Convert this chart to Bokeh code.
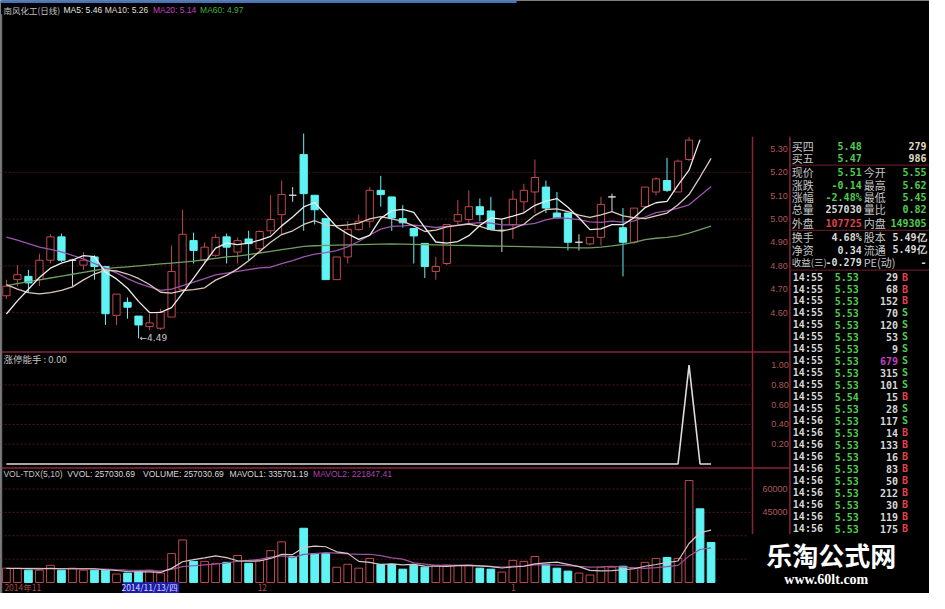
from bokeh.plotting import figure
from bokeh.models import Range1d, ColumnDataSource
from bokeh.core.properties import value
from bokeh.embed import file_html
from bokeh.resources import INLINE

# ---------------- data ----------------
opens = [4.672, 4.741, 4.755, 4.741, 4.824, 4.924, 4.824, 4.803, 4.838, 4.797,
         4.588, 4.644, 4.585, 4.540, 4.533, 4.581, 4.699, 4.908, 4.824, 4.845,
         4.924, 4.859, 4.915, 4.873, 4.950, 5.019, 5.102, 5.276, 5.102, 5.002,
         4.741, 4.838, 4.956, 4.991, 5.123, 5.095, 5.002, 4.960, 4.896, 4.776,
         4.810, 4.991, 4.998, 5.053, 5.035, 4.952, 4.977, 5.074, 5.116, 5.137,
         5.026, 5.026, 4.901, 4.894, 4.922, 5.095, 4.963, 4.901, 5.053, 5.116,
         5.165, 5.116, 5.255]
highs = [4.741, 4.803, 4.783, 4.852, 4.935, 4.938, 4.830, 4.859, 4.845, 4.797,
         4.679, 4.665, 4.585, 4.595, 4.616, 4.887, 5.040, 4.942, 4.900, 4.935,
         4.938, 4.921, 4.950, 4.952, 5.102, 5.165, 5.137, 5.366, 5.102, 5.002,
         4.838, 4.991, 5.019, 5.137, 5.185, 5.095, 5.060, 4.960, 4.896, 4.838,
         4.977, 5.081, 5.123, 5.088, 5.095, 4.998, 5.123, 5.151, 5.255, 5.165,
         5.116, 5.026, 4.935, 4.922, 5.095, 5.109, 5.047, 5.047, 5.137, 5.179,
         5.262, 5.255, 5.352]
lows = [4.658, 4.713, 4.685, 4.713, 4.810, 4.817, 4.713, 4.783, 4.741, 4.547,
        4.547, 4.574, 4.490, 4.526, 4.526, 4.581, 4.699, 4.810, 4.810, 4.838,
        4.810, 4.810, 4.824, 4.866, 4.935, 4.935, 5.074, 4.950, 4.977, 4.741,
        4.741, 4.810, 4.950, 4.963, 5.053, 4.950, 4.963, 4.810, 4.748, 4.741,
        4.803, 4.977, 4.977, 4.991, 4.956, 4.859, 4.915, 5.026, 5.026, 5.026,
        5.005, 4.866, 4.866, 4.887, 4.887, 5.033, 4.755, 4.894, 5.047, 5.102,
        5.116, 5.116, 5.248]
closes = [4.713, 4.762, 4.727, 4.824, 4.924, 4.824, 4.824, 4.824, 4.797, 4.595,
          4.679, 4.623, 4.547, 4.556, 4.602, 4.776, 4.935, 4.866, 4.880, 4.922,
          4.880, 4.908, 4.895, 4.947, 4.998, 5.105, 5.102, 5.109, 5.040, 4.741,
          4.838, 4.956, 4.991, 5.123, 5.105, 5.005, 4.984, 4.928, 4.797, 4.797,
          4.977, 5.019, 5.053, 5.019, 4.956, 4.952, 5.085, 5.123, 5.178, 5.047,
          5.005, 4.901, 4.901, 4.922, 5.063, 5.095, 4.901, 5.047, 5.137, 5.172,
          5.123, 5.248, 5.338]

ma5 = [4.594, 4.65, 4.70, 4.75, 4.790, 4.812, 4.825, 4.844, 4.839, 4.773,
       4.744, 4.704, 4.648, 4.600, 4.601, 4.621, 4.683, 4.747, 4.812, 4.876,
       4.897, 4.891, 4.897, 4.910, 4.926, 4.971, 5.009, 5.052, 5.071, 5.019,
       4.966, 4.937, 4.913, 4.930, 5.003, 5.036, 5.042, 5.029, 4.964, 4.902,
       4.897, 4.904, 4.929, 4.973, 5.005, 5.000, 5.013, 5.027, 5.059, 5.077,
       5.088, 5.051, 5.006, 4.955, 4.958, 4.976, 4.976, 5.006, 5.049, 5.070,
       5.076, 5.145, 5.210, 5.340]
ma10 = [4.72, 4.70, 4.685, 4.68, 4.685, 4.695, 4.71, 4.74, 4.765, 4.782,
        4.778, 4.765, 4.746, 4.720, 4.687, 4.683, 4.694, 4.698, 4.706, 4.739,
        4.759, 4.787, 4.822, 4.861, 4.901, 4.934, 4.950, 4.977, 4.993, 4.975,
        4.971, 4.975, 4.983, 5.001, 5.011, 5.001, 4.990, 4.971, 4.947, 4.953,
        4.967, 4.973, 4.979, 4.969, 4.954, 4.949, 4.959, 4.978, 5.016, 5.041,
        5.044, 5.032, 5.017, 5.007, 5.018, 5.032, 5.014, 5.006, 5.002, 5.014,
        5.026, 5.061, 5.105, 5.180, 5.260]
ma20 = [4.923, 4.91, 4.895, 4.88, 4.87, 4.86, 4.845, 4.83, 4.81, 4.79,
        4.77, 4.745, 4.725, 4.71, 4.695, 4.70, 4.715, 4.73, 4.745, 4.761,
        4.769, 4.776, 4.784, 4.791, 4.794, 4.809, 4.822, 4.838, 4.850, 4.857,
        4.865, 4.881, 4.904, 4.932, 4.957, 4.969, 4.971, 4.974, 4.970, 4.964,
        4.969, 4.974, 4.981, 4.985, 4.983, 4.975, 4.975, 4.975, 4.982, 4.997,
        5.006, 5.003, 4.998, 4.988, 4.986, 4.991, 4.987, 4.992, 5.009, 5.028,
        5.035, 5.047, 5.061, 5.100, 5.140]
ma60 = [4.715, 4.724, 4.732, 4.740, 4.748, 4.756, 4.764, 4.772, 4.780, 4.788,
        4.792, 4.796, 4.800, 4.804, 4.808, 4.812, 4.816, 4.820, 4.826, 4.832,
        4.838, 4.842, 4.848, 4.855, 4.862, 4.869, 4.876, 4.883, 4.886, 4.888,
        4.889, 4.890, 4.891, 4.892, 4.893, 4.894, 4.893, 4.892, 4.891, 4.890,
        4.889, 4.888, 4.887, 4.886, 4.885, 4.884, 4.883, 4.882, 4.881, 4.880,
        4.879, 4.878, 4.877, 4.877, 4.880, 4.885, 4.892, 4.900, 4.912, 4.918,
        4.922, 4.928, 4.940, 4.955, 4.970]

volume = [9200, 9200, 7940, 7940, 11060, 7940, 9190, 7940, 7940, 7940,
          5440, 6060, 6690, 7940, 6060, 18560, 27310, 13560, 13560, 12310,
          12940, 17310, 12310, 14190, 20440, 26060, 16690, 34810, 18560, 18560,
          9810, 11690, 9190, 15440, 11690, 11690, 8560, 11060, 9810, 11060,
          11060, 11060, 11060, 9190, 8560, 6690, 14190, 13560, 16690, 11690,
          9190, 7310, 6060, 4810, 9810, 9810, 10440, 9190, 12940, 15440,
          16060, 15440, 65440, 47310, 25703]
vol_up = [1, 1, 0, 1, 1, 0, 1, 1, 0, 0,
          1, 0, 0, 1, 1, 1, 1, 0, 1, 1,
          0, 1, 0, 1, 1, 1, 0, 0, 0, 0,
          1, 1, 1, 1, 0, 0, 0, 0, 0, 1,
          1, 1, 1, 0, 0, 1, 1, 1, 1, 0,
          0, 0, 1, 1, 1, 1, 0, 1, 1, 1,
          0, 1, 1, 0, 0]
mavol1 = [9000, 9000, 8900, 8800, 9068, 8816, 8814, 8814, 8814, 8190,
          7690, 7064, 6814, 6814, 6438, 9062, 13312, 14686, 15810, 17060,
          15936, 13936, 13686, 13812, 15438, 18062, 17938, 22438, 23312, 22936,
          19686, 18686, 13562, 12938, 11564, 11940, 11314, 11688, 10562, 10436,
          10310, 10810, 10810, 10686, 10186, 9312, 9938, 10438, 11938, 12564,
          13064, 11688, 10188, 7812, 7436, 7560, 8186, 8812, 10438, 11564,
          12814, 13814, 25064, 31938, 33570]
mavol2 = [9200, 9150, 9100, 9050, 9000, 8950, 8900, 8800, 8700, 8629,
          8253, 7939, 7814, 7814, 7314, 8376, 10188, 10750, 11312, 11749,
          12499, 13624, 14186, 14811, 16249, 16999, 15937, 18062, 18562, 19187,
          18874, 18312, 18000, 18125, 17250, 15813, 15000, 12625, 11750, 11000,
          11125, 11062, 11249, 10624, 10311, 9811, 10374, 10624, 11312, 11375,
          11188, 10813, 10313, 9875, 10000, 10312, 9937, 9500, 9125, 9500,
          10187, 11000, 16938, 21188, 22185]
zt_signal = [0, 0, 0, 0, 0, 0, 0, 0, 0, 0,
             0, 0, 0, 0, 0, 0, 0, 0, 0, 0,
             0, 0, 0, 0, 0, 0, 0, 0, 0, 0,
             0, 0, 0, 0, 0, 0, 0, 0, 0, 0,
             0, 0, 0, 0, 0, 0, 0, 0, 0, 0,
             0, 0, 0, 0, 0, 0, 0, 0, 0, 0,
             0, 0, 1, 0, 0]

price_ticks = [4.60, 4.70, 4.80, 4.90, 5.00, 5.10, 5.20, 5.30]
price_grid = [4.60, 4.80, 5.00, 5.20]
ind_ticks = [0.20, 0.40, 0.60, 0.80, 1.00]
ind_grid = [0.20, 0.40, 0.60, 0.80]
vol_ticks = [45000, 60000]
vol_grid = [15000, 30000, 45000, 60000]
date_labels = ["2014年11", "12", "1"]
date_index = [0, 23, 46]
cursor_index = 13
cursor_label = "2014/11/13/四"

title_texts = ["MA5: 5.46", "MA10: 5.26", "MA20: 5.14", "MA60: 4.97"]
vol_title_texts = ["VOL-TDX(5,10)", "VVOL: 257030.69", "VOLUME: 257030.69",
                   "MAVOL1: 335701.19", "MAVOL2: 221847.41"]

q_label1 = ["买四", "买五", "现价", "涨跌", "涨幅", "总量", "外盘", "换手", "净资"]
q_label1_last = "收益(三)"
q_value1 = ["5.48", "5.47", "5.51", "-0.14", "-2.48%", "257030", "107725", "4.68%", "0.34", "-0.279"]
q_label2 = ["", "", "今开", "最高", "最低", "量比", "内盘", "股本", "流通", "PE(动)"]
q_value2 = ["279", "986", "5.55", "5.62", "5.45", "0.82", "149305", "5.49亿", "5.49亿", "-"]
tick_times = ["14:55"] * 12 + ["14:56"] * 10
tick_prices = ["5.53", "5.53", "5.53", "5.53", "5.53", "5.53", "5.53", "5.53", "5.53", "5.53", "5.54",
               "5.53", "5.53", "5.53", "5.53", "5.53", "5.53", "5.53", "5.53", "5.53", "5.53", "5.53"]
tick_vols = [29, 68, 152, 70, 120, 53, 9, 679, 315, 101, 15, 28, 117, 14, 133, 16, 83, 50, 212, 30, 119, 175]
tick_bs = ["B", "B", "B", "S", "S", "S", "S", "S", "S", "S", "B", "S",
           "S", "B", "B", "B", "B", "B", "B", "B", "B", "B"]

# ---------------- layout (reference pixel frame) ----------------
REF_W, REF_H = 945.0, 609.0
W, H = 929, 593
X0, DX = 6.0, 11.2
P_REF, P_Y, P_SC = 5.30, 152.5, 240.0
I_Y, I_SC = 476.0, 101.5
V_Y, V_SC = 597.7, 625.0

RED = "#c0484c"
CYAN = "#5ff3f3"
DOJI = "#d8d8d8"
AXIS_COL = "#b05858"
GRID_COL = "#4a1a1e"
SEP_COL = "#8a2434"
GREEN_T = "#52cc52"
RED_T = "#e0424a"
WHITE_T = "#d8d8d8"
LABEL_T = "#c4c4c4"
MAG_T = "#c040c0"
CJK = "Noto Sans CJK SC"
MONO = "DejaVu Sans Mono"

p = figure(width=W, height=H, title=None, toolbar_location=None, output_backend="svg",
           x_range=Range1d((0 - X0) / DX, (REF_W - X0) / DX),
           y_range=Range1d(P_REF - (REF_H - P_Y) / P_SC, P_REF + P_Y / P_SC),
           x_axis_location=None, y_axis_location=None, min_border=0,
           background_fill_color="black", border_fill_color="black",
           outline_line_color=None)
p.grid.visible = False
p.extra_x_ranges = {"px": Range1d(0, REF_W)}
p.extra_y_ranges = {"py": Range1d(REF_H, 0),
                    "ind": Range1d(-(REF_H - I_Y) / I_SC, I_Y / I_SC),
                    "vol": Range1d(-(REF_H - V_Y) * V_SC, V_Y * V_SC)}


def hgrid(vals, yname):
    n = len(vals)
    p.segment(x0=[0] * n, y0=vals, x1=[765] * n, y1=vals, x_range_name="px",
              y_range_name=yname, line_color=GRID_COL, line_width=1, line_dash="2 2")


def txt(x, y, t, color, size, font="Liberation Sans", align="left", baseline="middle",
        style="normal", xr="px", yr="py", x_offset=0):
    cols = color if isinstance(color, list) else [color] * len(t)
    src = ColumnDataSource(dict(x=x, y=y, t=t, c=cols))
    p.text(x="x", y="y", text="t", text_color="c", source=src, x_range_name=xr,
           y_range_name=yr, text_font=value(font), text_font_size=f"{size}px",
           text_align=align, text_baseline=baseline, text_font_style=style,
           x_offset=x_offset)


# grids
hgrid(price_grid, "default")
hgrid(ind_grid, "ind")
hgrid(vol_grid, "vol")

# panel borders / separators
p.segment(x0=[0, 0, 765, 803], y0=[361, 480, 140, 140], x1=[803, 803, 765, 803], y1=[361, 480, 548, 548],
          x_range_name="px", y_range_name="py", line_color=SEP_COL, line_width=1.5)
p.segment(x0=[803, 803, 803], y0=[169, 236, 277], x1=[945, 945, 945], y1=[169, 236, 277],
          x_range_name="px", y_range_name="py", line_color="#5a1a22", line_width=1.2)
p.segment(x0=[1], y0=[14], x1=[1], y1=[609], x_range_name="px", y_range_name="py",
          line_color="#6e6e6e", line_width=1.5)
p.quad(left=[0], right=[525], top=[0], bottom=[2.5], x_range_name="px", y_range_name="py",
       fill_color="#3f74c8", line_color=None)

# candles
idx = list(range(len(closes)))
ccol, cfill = [], []
for o, c in zip(opens, closes):
    if c > o:
        ccol.append(RED); cfill.append("black")
    elif c < o:
        ccol.append(CYAN); cfill.append(CYAN)
    else:
        ccol.append(DOJI); cfill.append(DOJI)
csrc = ColumnDataSource(dict(x=idx, top=[max(o, c) for o, c in zip(opens, closes)],
                             bottom=[min(o, c) for o, c in zip(opens, closes)],
                             high=highs, low=lows, col=ccol, fill=cfill))
p.segment(x0="x", y0="low", x1="x", y1="high", line_color="col", line_width=1, source=csrc)
p.vbar(x="x", width=0.66, top="top", bottom="bottom", fill_color="fill", line_color="col",
       line_width=1, source=csrc)

# moving averages
p.line(list(range(len(ma60))), ma60, line_color="#6f9e63", line_width=1.3)
p.line(list(range(len(ma20))), ma20, line_color="#9b55ab", line_width=1.3)
p.line(list(range(len(ma10))), ma10, line_color="#dcc9bd", line_width=1.3)
p.line(list(range(len(ma5))), ma5, line_color="#ececec", line_width=1.3)

# lowest-low marker
low_i = lows.index(min(lows))
txt([low_i], [lows[low_i]], [f"←{lows[low_i]:.2f}"], "#c8c8c8", 9, font="DejaVu Sans",
    xr="default", yr="default", x_offset=1)

# indicator panel
p.line(list(range(len(zt_signal))), zt_signal, y_range_name="ind", line_color="#dcdcdc",
       line_width=1.6)

# volume panel
vidx = list(range(len(volume)))
vsrc = ColumnDataSource(dict(x=vidx, top=volume,
                             col=[RED if u else CYAN for u in vol_up],
                             fill=["black" if u else CYAN for u in vol_up]))
p.vbar(x="x", width=0.7, top="top", bottom=0, fill_color="fill", line_color="col",
       line_width=1, source=vsrc, y_range_name="vol")
p.line(list(range(len(mavol2))), mavol2, y_range_name="vol", line_color="#a0509c", line_width=1.2)
p.line(list(range(len(mavol1))), mavol1, y_range_name="vol", line_color="#d9c8c8", line_width=1.2)

# right axis labels
txt([783] * len(price_ticks), price_ticks, [f"{t:.2f}" for t in price_ticks], AXIS_COL, 9,
    yr="default")
txt([784] * len(ind_ticks), ind_ticks, [f"{t:.2f}" for t in ind_ticks], AXIS_COL, 9, yr="ind")
txt([775] * len(vol_ticks), vol_ticks, [str(t) for t in vol_ticks], AXIS_COL, 9, yr="vol")

# titles
txt([3], [10], ["南风化工(日线)"], "#c0c0c0", 8.5, font=CJK)
txt([64, 106, 155, 203], [10] * 4, title_texts, ["#e6e6e6", "#e0d8cc", "#c040c0", "#40b040"], 8.5)
txt([3], [368], ["涨停能手 : 0.00"], "#c0c0c0", 9.5, font=CJK)
txt([3, 68, 145, 233, 318], [486] * 5, vol_title_texts,
    ["#c0c0c0", WHITE_T, WHITE_T, WHITE_T, "#b040b0"], 8.5)

# date row
p.quad(left=[cursor_index - 2.4], right=[cursor_index + 2.7], top=[597.5], bottom=[609],
       y_range_name="py", fill_color="#1c1ca8", line_color=None)
txt([cursor_index], [602.5], [cursor_label], "#d8d8ff", 8.5, font=CJK, align="center", xr="default")
txt(date_index, [602.5] * len(date_index), date_labels, "#a84a4a", 8.5, font=CJK,
    xr="default", x_offset=-2)

# info panel
q_y = [149, 162, 176, 189, 202, 214, 228, 243, 256, 269]
v1c = [GREEN_T, GREEN_T, GREEN_T, GREEN_T, GREEN_T, WHITE_T, RED_T, WHITE_T, WHITE_T, WHITE_T]
v2c = ["#e0dcc0", "#e0dcc0", GREEN_T, GREEN_T, GREEN_T, GREEN_T, GREEN_T, WHITE_T, WHITE_T, WHITE_T]
txt([805] * len(q_label1), q_y[:len(q_label1)], q_label1, LABEL_T, 11, font=CJK)
txt([805], [q_y[-1]], [q_label1_last], LABEL_T, 9.5, font=CJK)
txt([878] * len(q_label2), q_y, q_label2, LABEL_T, 11, font=CJK)
txt([876] * len(q_value1), q_y, q_value1, v1c, 10, font=MONO, align="right", style="bold")
txt([942] * len(q_value2), q_y, q_value2, v2c, 10, font=MONO, align="right", style="bold")

t_y = [284 + 12.3 * k for k in range(len(tick_times))]
txt([806] * len(t_y), t_y, tick_times, WHITE_T, 10, font=MONO, style="bold")
txt([873] * len(t_y), t_y, tick_prices, GREEN_T, 10, font=MONO, align="right", style="bold")
txt([913] * len(t_y), t_y, [str(v) for v in tick_vols],
    [MAG_T if v >= 500 else WHITE_T for v in tick_vols], 10, font=MONO, align="right", style="bold")
txt([917] * len(t_y), t_y, tick_bs, [RED_T if b == "B" else GREEN_T for b in tick_bs], 10,
    font=MONO, style="bold")

# watermark
p.quad(left=[760], right=[945], top=[548], bottom=[609], x_range_name="px", y_range_name="py",
       fill_color="black", line_color=None)
txt([845], [569], ["乐淘公式网"], "#ffffff", 26, font=CJK, align="center", style="bold")
txt([840], [595], ["www.60lt.com"], "#ffffff", 14, font="Liberation Serif", align="center",
    style="bold")

open("out.html", "w").write(file_html(p, INLINE))
